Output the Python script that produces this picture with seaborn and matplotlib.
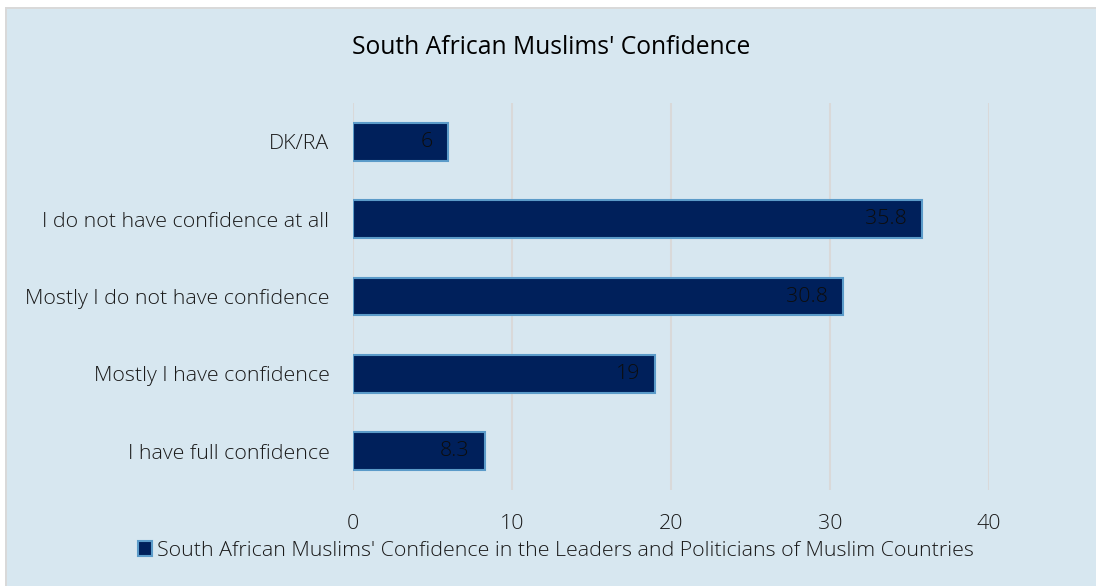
import matplotlib
matplotlib.use("Agg")
import matplotlib.pyplot as plt
import seaborn as sns
import pandas as pd
from matplotlib.patches import Rectangle

categories = ["DK/RA", "I do not have confidence at all", "Mostly I do not have confidence",
              "Mostly I have confidence", "I have full confidence"]
values = [6, 35.8, 30.8, 19, 8.3]
series_name = "South African Muslims' Confidence in the Leaders and Politicians of Muslim Countries"
title = "South African Muslims' Confidence"
x_ticks = [0, 10, 20, 30, 40]

BG = "#D7E7F0"
BAR = "#00205B"
EDGE = "#5B9BC9"
GRID = "#D9D9D9"
TXT = "#1a1a1a"
FS = 15.4

sns.set_style("white")
plt.rcParams["font.family"] = ["Open Sans", "DejaVu Sans"]
plt.rcParams["font.weight"] = "light"

df = pd.DataFrame({"category": categories, "value": values})

fig = plt.figure(figsize=(10.96, 5.86), dpi=100)
fig.patch.set_facecolor(BG)
# white margin strips and thin grey frame on the top and left
W, H = 1096, 586
for (x0, y0, w, h, c) in [(0, 1 - 8 / H, 1, 8 / H, "white"),
                          (0, 0, 5 / W, 1, "white"),
                          (5 / W, 0, 2 / W, 1 - 7 / H, GRID),
                          (5 / W, 1 - 9 / H, 1 - 5 / W, 2 / H, GRID)]:
    fig.patches.append(Rectangle((x0, y0), w, h, transform=fig.transFigure,
                                 facecolor=c, edgecolor="none", zorder=-5))

ax = fig.add_axes([353 / W, 1 - 490 / H, (989 - 353) / W, (490 - 103) / H])
ax.set_facecolor("none")

sns.barplot(data=df, x="value", y="category", orient="h", ax=ax, color=BAR,
            edgecolor=EDGE, linewidth=1.5, width=0.49, saturation=1, label=series_name)

ax.set_xlim(0, 40)
ax.set_xticks(x_ticks)
ax.set_xticklabels([str(t) for t in x_ticks], fontsize=FS, color=TXT)
ax.tick_params(axis="y", labelsize=FS, colors=TXT, length=0, pad=17)
ax.tick_params(axis="x", length=0, pad=17)
ax.set_xlabel("")
ax.set_ylabel("")
ax.xaxis.grid(True, color=GRID, linewidth=1.5)
ax.set_axisbelow(True)
for s in ax.spines.values():
    s.set_visible(False)

# value labels sit inside the bar ends, right-aligned
for container in ax.containers:
    ax.bar_label(container, labels=[f"{v:g}" for v in values], label_type="edge",
                 padding=-11, fontsize=FS, color="#0d0d0d")
for t in ax.texts:
    t.set_horizontalalignment("right")

fig.text(551 / W, 1 - 48 / H, title, ha="center", va="center", fontsize=17.7,
         color="#000000", fontweight="normal")

leg = ax.legend(loc="center", bbox_to_anchor=(0.5 + (556 - 671) / 636, -0.158), frameon=False,
                fontsize=FS, handlelength=0.65, handleheight=0.65, handletextpad=0.25)
for t in leg.get_texts():
    t.set_color(TXT)

fig.savefig("out.png", dpi=100, facecolor=fig.get_facecolor())
